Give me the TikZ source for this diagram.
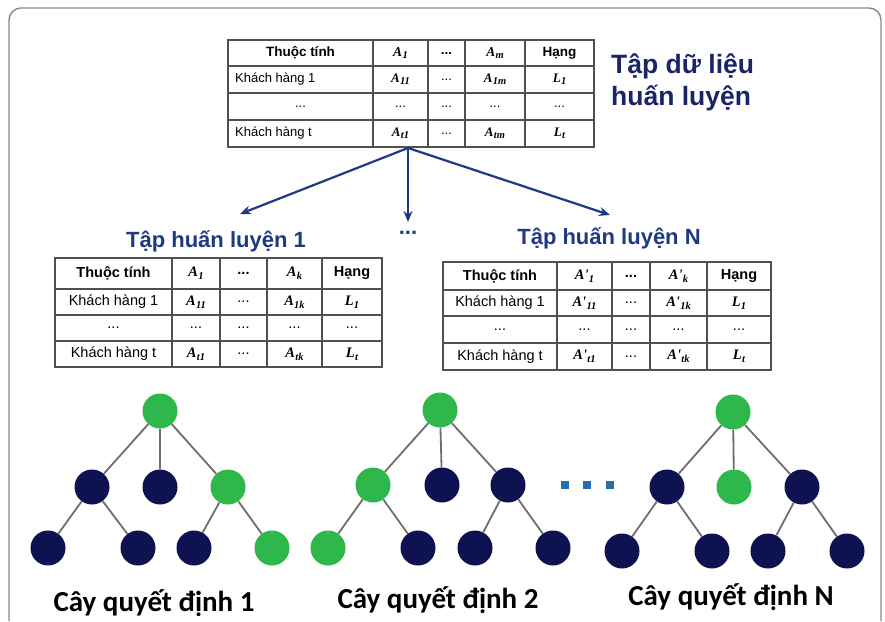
\documentclass[tikz,border=0pt]{standalone}
\usepackage{fontspec}
\setmainfont{Liberation Sans}
\newfontfamily\serifA{Liberation Serif}
\newfontfamily\labfont{Carlito}
\usetikzlibrary{arrows.meta}

\definecolor{navy}{HTML}{0E1250}
\definecolor{leafgreen}{HTML}{2EB84B}
\definecolor{edgegray}{HTML}{6E6E6E}
\definecolor{titlenavy}{HTML}{1A2466}
\definecolor{setblue}{HTML}{1E3A82}
\definecolor{dotblue}{HTML}{2C6DB2}
\definecolor{gridgray}{HTML}{505050}
\definecolor{framegray}{HTML}{8A8A8A}

\newcommand\Avar[2]{{\serifA\bfseries\itshape #1\kern0.3pt\raisebox{-0.4ex}{\fontsize{10.5}{10.5}\selectfont #2}}}

\tikzset{
  gridline/.style={draw=gridgray, line width=1.1},
  cellA/.style={inner sep=0, font=\fontsize{13}{15}\selectfont},
  cellB/.style={inner sep=0, font=\fontsize{14.5}{16}\selectfont},
  hdrA/.style={cellA, font=\fontsize{13.5}{15}\selectfont\bfseries},
  hdrB/.style={cellB, font=\fontsize{14.5}{16}\selectfont\bfseries},
  gnode/.style={circle, fill=leafgreen, minimum size=35, inner sep=0},
  nnode/.style={circle, fill=navy, minimum size=35, inner sep=0},
  tedge/.style={draw=edgegray, line width=1.8},
  bigarrow/.style={draw=setblue, line width=2.2, -{Stealth[length=11,width=9]}},
  setlabel/.style={inner sep=0, text=setblue, font=\fontsize{22}{24}\selectfont\bfseries},
  treelabel/.style={inner sep=0, font=\labfont\fontsize{29}{30}\selectfont\bfseries},
  sqdot/.style={rectangle, fill=dotblue, minimum size=8, inner sep=0}
}

\begin{document}
\begin{tikzpicture}[x=1pt,y=-1pt]
\useasboundingbox (0,0) rectangle (885,621);
\fill[white] (0,0) rectangle (885,621);
% frame
\draw[framegray, line width=1.4, rounded corners=12] (9,621) -- (9,8) -- (881,8) -- (881,621);

% ---------- top table ----------
\fill[white] (228,40) rectangle (594,147);
\draw[gridline] (228,40) rectangle (594,147);
\foreach \x in {373,428,465,525} \draw[gridline] (\x,40) -- (\x,147);
\foreach \y in {66,93,120} \draw[gridline] (228,\y) -- (594,\y);
\node[hdrA] (t0h1) at (300.5,53) {Thuộc tính};
\node[hdrA] (t0h2) at (400.5,53) {\Avar{A}{1}};
\node[hdrA] (t0h3) at (446.5,53) {...};
\node[hdrA] (t0h4) at (495,53) {\Avar{A}{m}};
\node[hdrA] (t0h5) at (559.5,53) {Hạng};
\node[cellA, anchor=west] (t0a1) at (235,79.5) {Khách hàng 1};
\node[cellA] (t0a2) at (400.5,79.5) {\Avar{A}{11}};
\node[cellA] (t0a3) at (446.5,79.5) {...};
\node[cellA] (t0a4) at (495,79.5) {\Avar{A}{1m}};
\node[cellA] (t0a5) at (559.5,79.5) {\Avar{L}{1}};
\node[cellA] (t0b1) at (300.5,106.5) {...};
\node[cellA] (t0b2) at (400.5,106.5) {...};
\node[cellA] (t0b3) at (446.5,106.5) {...};
\node[cellA] (t0b4) at (495,106.5) {...};
\node[cellA] (t0b5) at (559.5,106.5) {...};
\node[cellA, anchor=west] (t0c1) at (235,133.5) {Khách hàng t};
\node[cellA] (t0c2) at (400.5,133.5) {\Avar{A}{t1}};
\node[cellA] (t0c3) at (446.5,133.5) {...};
\node[cellA] (t0c4) at (495,133.5) {\Avar{A}{tm}};
\node[cellA] (t0c5) at (559.5,133.5) {\Avar{L}{t}};

\node[inner sep=0, anchor=west, align=left, text=titlenavy,
      font=\fontsize{26.5}{32}\selectfont\bfseries] (title) at (611,82) {Tập dữ liệu\\huấn luyện};

% ---------- arrows ----------
\coordinate (src) at (408,148);
\coordinate (e1) at (240,214);
\coordinate (e2) at (408,222);
\coordinate (e3) at (610,215);
\draw[bigarrow] (src) -- (e1);
\draw[bigarrow] (src) -- (e2);
\draw[bigarrow] (src) -- (e3);

\node[setlabel] (set1) at (216,241) {Tập huấn luyện 1};
\node[setlabel] (setd) at (408,233) {...};
\node[setlabel] (setN) at (609,238) {Tập huấn luyện N};

% ---------- table 1 ----------
\fill[white] (55,258) rectangle (382,367);
\draw[gridline] (55,258) rectangle (382,367);
\foreach \x in {172,220,267,322} \draw[gridline] (\x,258) -- (\x,367);
\foreach \y in {289,315,341} \draw[gridline] (55,\y) -- (382,\y);
\node[hdrB] (t1h1) at (113.5,273.5) {Thuộc tính};
\node[hdrB] (t1h2) at (196,273.5) {\Avar{A}{1}};
\node[hdrB] (t1h3) at (243.5,273.5) {...};
\node[hdrB] (t1h4) at (294.5,273.5) {\Avar{A}{k}};
\node[hdrB] (t1h5) at (352,273.5) {Hạng};
\node[cellB] (t1a1) at (113.5,302) {Khách hàng 1};
\node[cellB] (t1a2) at (196,302) {\Avar{A}{11}};
\node[cellB] (t1a3) at (243.5,302) {...};
\node[cellB] (t1a4) at (294.5,302) {\Avar{A}{1k}};
\node[cellB] (t1a5) at (352,302) {\Avar{L}{1}};
\node[cellB] (t1b1) at (113.5,328) {...};
\node[cellB] (t1b2) at (196,328) {...};
\node[cellB] (t1b3) at (243.5,328) {...};
\node[cellB] (t1b4) at (294.5,328) {...};
\node[cellB] (t1b5) at (352,328) {...};
\node[cellB] (t1c1) at (113.5,354) {Khách hàng t};
\node[cellB] (t1c2) at (196,354) {\Avar{A}{t1}};
\node[cellB] (t1c3) at (243.5,354) {...};
\node[cellB] (t1c4) at (294.5,354) {\Avar{A}{tk}};
\node[cellB] (t1c5) at (352,354) {\Avar{L}{t}};

% ---------- table N ----------
\fill[white] (443,262) rectangle (771,370);
\draw[gridline] (443,262) rectangle (771,370);
\foreach \x in {557,612,650,707} \draw[gridline] (\x,262) -- (\x,370);
\foreach \y in {290,316,343} \draw[gridline] (443,\y) -- (771,\y);
\node[hdrB] (tNh1) at (500,276) {Thuộc tính};
\node[hdrB] (tNh2) at (584.5,276) {\Avar{A'}{1}};
\node[hdrB] (tNh3) at (631,276) {...};
\node[hdrB] (tNh4) at (678.5,276) {\Avar{A'}{k}};
\node[hdrB] (tNh5) at (739,276) {Hạng};
\node[cellB] (tNa1) at (500,303) {Khách hàng 1};
\node[cellB] (tNa2) at (584.5,303) {\Avar{A'}{11}};
\node[cellB] (tNa3) at (631,303) {...};
\node[cellB] (tNa4) at (678.5,303) {\Avar{A'}{1k}};
\node[cellB] (tNa5) at (739,303) {\Avar{L}{1}};
\node[cellB] (tNb1) at (500,329.5) {...};
\node[cellB] (tNb2) at (584.5,329.5) {...};
\node[cellB] (tNb3) at (631,329.5) {...};
\node[cellB] (tNb4) at (678.5,329.5) {...};
\node[cellB] (tNb5) at (739,329.5) {...};
\node[cellB] (tNc1) at (500,356.5) {Khách hàng t};
\node[cellB] (tNc2) at (584.5,356.5) {\Avar{A'}{t1}};
\node[cellB] (tNc3) at (631,356.5) {...};
\node[cellB] (tNc4) at (678.5,356.5) {\Avar{A'}{tk}};
\node[cellB] (tNc5) at (739,356.5) {\Avar{L}{t}};

% ---------- tree 1 ----------
\node[gnode] (a0) at (160,411) {};
\node[nnode] (a1) at (92,487) {};
\node[nnode] (a2) at (160,487) {};
\node[gnode] (a3) at (228,487) {};
\node[nnode] (a4) at (48,548) {};
\node[nnode] (a5) at (138,548) {};
\node[nnode] (a6) at (194,548) {};
\node[gnode] (a7) at (272,548) {};
\draw[tedge] (a0) -- (a1) (a0) -- (a2) (a0) -- (a3)
             (a1) -- (a4) (a1) -- (a5) (a3) -- (a6) (a3) -- (a7);
\node[treelabel] (lab1) at (154,603) {Cây quyết định 1};

% ---------- tree 2 ----------
\node[gnode] (b0) at (440,410) {};
\node[gnode] (b1) at (373,485) {};
\node[nnode] (b2) at (442,485) {};
\node[nnode] (b3) at (508,485) {};
\node[gnode] (b4) at (328,548) {};
\node[nnode] (b5) at (418,548) {};
\node[nnode] (b6) at (475,548) {};
\node[nnode] (b7) at (553,548) {};
\draw[tedge] (b0) -- (b1) (b0) -- (b2) (b0) -- (b3)
             (b1) -- (b4) (b1) -- (b5) (b3) -- (b6) (b3) -- (b7);
\node[treelabel] (lab2) at (438,600) {Cây quyết định 2};

% ---------- dots ----------
\node[sqdot] (d1) at (565,485) {};
\node[sqdot] (d2) at (587,485) {};
\node[sqdot] (d3) at (610,485) {};

% ---------- tree N ----------
\node[gnode] (c0) at (733,412) {};
\node[nnode] (c1) at (667,487) {};
\node[gnode] (c2) at (734,487) {};
\node[nnode] (c3) at (802,487) {};
\node[nnode] (c4) at (622,551) {};
\node[nnode] (c5) at (712,551) {};
\node[nnode] (c6) at (768,551) {};
\node[nnode] (c7) at (847,551) {};
\draw[tedge] (c0) -- (c1) (c0) -- (c2) (c0) -- (c3)
             (c1) -- (c4) (c1) -- (c5) (c3) -- (c6) (c3) -- (c7);
\node[treelabel] (lab3) at (731,597) {Cây quyết định N};
\end{tikzpicture}
\end{document}
